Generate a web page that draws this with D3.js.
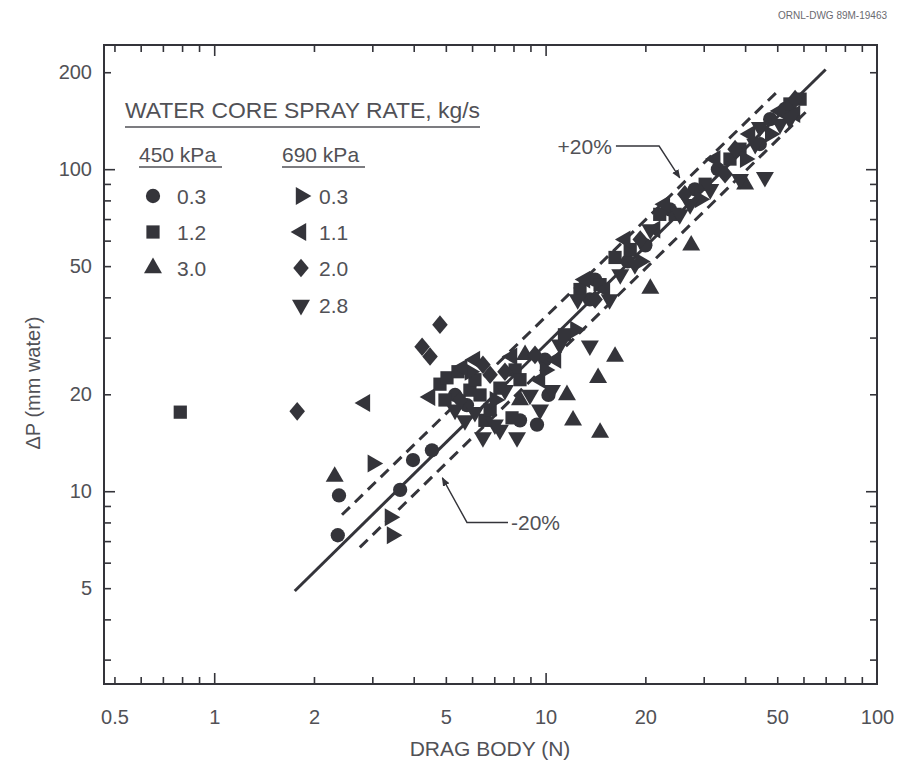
<!DOCTYPE html>
<html>
<head>
<meta charset="utf-8">
<script src="https://cdn.jsdelivr.net/npm/d3@7"></script>
<style>
  body { margin: 0; background: #fff; }
  svg { display: block; font-family: "Liberation Sans", Arial, Helvetica, sans-serif; }
</style>
</head>
<body>
<div id="vis"><svg width="899" height="765"></svg></div>
<script>
// ---- data (x = drag body N, y = dP mm water) ----
const xTickLabels = [0.5, 1, 2, 5, 10, 20, 50, 100];
const xMinorTicks = [0.5, 0.6, 0.7, 0.8, 0.9, 2, 3, 4, 5, 6, 7, 8, 9, 20, 30, 40, 50, 60, 70, 80, 90];
const xMajorTicks = [1, 10];
const yTickLabels = [5, 10, 20, 50, 100, 200];
const yMinorTicks = [3, 4, 5, 6, 7, 8, 9, 20, 30, 40, 50, 60, 70, 80, 90, 200];
const yMajorTicks = [10, 100];

// 450 kPa
const p450_r03 = [[2.38, 9.7], [2.36, 7.3], [3.64, 10.1], [3.98, 12.5], [4.54, 13.4], [5.79, 18.5],
  [5.33, 19.9], [9.42, 16.1], [9.96, 25.6], [8.37, 16.6], [10.2, 19.9], [13.6, 39.4], [14.1, 45.4],
  [17.7, 51.7], [20.0, 58.0], [23.7, 75.0], [28.2, 86.6], [33.1, 100], [44.3, 119.7], [47.6, 143],
  [52.8, 154]];
const p450_r12 = [[0.79, 17.6], [4.80, 21.5], [4.97, 19.2], [5.04, 22.5], [5.44, 23.5], [5.91, 20.6],
  [6.12, 22.2], [6.34, 19.9], [6.56, 16.6], [6.80, 17.9], [7.28, 20.9], [7.92, 16.9], [8.09, 23.8],
  [8.37, 22.2], [11.4, 30.6], [12.7, 42.3], [14.6, 43.8], [16.2, 53.2], [18.0, 56.3], [22.1, 72.4],
  [24.6, 72.4], [30.3, 89.8], [36.0, 107.5], [38.6, 115.4], [54.6, 159.4], [58.6, 165]];
const p450_r30 = [[2.31, 11.1], [8.37, 19.2], [8.67, 26.5], [11.6, 19.9], [12.1, 16.6], [14.6, 15.2],
  [14.4, 22.5], [16.2, 26.2], [20.7, 42.6], [27.5, 58.0], [40.0, 89.8]];
// 690 kPa
const p690_r03 = [[3.01, 12.2], [3.39, 8.3], [3.44, 7.3], [5.91, 23.5], [7.03, 19.2], [9.96, 23.8],
  [12.3, 31.7], [19.3, 51.7], [29.2, 80.7], [40.0, 107.5], [47.6, 128.5]];
const p690_r11 = [[2.85, 18.8], [4.48, 19.6], [5.60, 24.2], [6.12, 25.6], [7.92, 26.2], [9.62, 22.2],
  [10.75, 25.6], [13.15, 45.4], [15.1, 42.3], [17.4, 60.5], [21.4, 65.0], [22.9, 77.8], [32.5, 107.5],
  [41.4, 128.5], [51.0, 151.6], [56.6, 148.4]];
const p690_r20 = [[1.78, 17.7], [4.80, 32.9], [4.24, 28.1], [4.48, 26.2], [5.52, 19.2], [6.47, 24.7],
  [6.80, 23.0], [7.54, 23.5], [9.29, 26.5], [14.1, 39.4], [19.3, 60.5], [26.3, 83.6], [34.8, 96.5],
  [37.3, 115.4], [56.6, 165]];
const p690_r28 = [[5.33, 17.9], [5.71, 16.6], [6.12, 17.6], [6.47, 14.7], [7.03, 16.1], [7.28, 15.5],
  [7.54, 20.6], [8.20, 14.7], [8.97, 19.9], [9.62, 17.9], [10.45, 20.6], [11.05, 28.5], [12.5, 39.4],
  [13.6, 28.3], [15.6, 39.4], [16.8, 47.1], [18.6, 50.6], [20.7, 65.0], [25.4, 72.4], [27.3, 77.8],
  [31.4, 86.6], [38.6, 93.1], [42.9, 119.7], [45.9, 94.4], [44.3, 135.1], [51.0, 138.1], [54.6, 143]];

const fitLine = [[1.75, 4.9], [70, 204]];
const plus20Line = [[2.43, 8.45], [50, 174]];
const minus20Line = [[2.75, 6.69], [62, 153]];

const plusNote = [[16.3, 118], [22.0, 118], [25.4, 94]];
const minusNote = [[7.7, 8.0], [5.79, 8.0], [4.88, 11.0]];

const series = [
  { group: "450 kPa", rate: "0.3", points: p450_r03, shape: "circle" },
  { group: "450 kPa", rate: "1.2", points: p450_r12, shape: "square" },
  { group: "450 kPa", rate: "3.0", points: p450_r30, shape: "up" },
  { group: "690 kPa", rate: "0.3", points: p690_r03, shape: "right" },
  { group: "690 kPa", rate: "1.1", points: p690_r11, shape: "left" },
  { group: "690 kPa", rate: "2.0", points: p690_r20, shape: "diamond" },
  { group: "690 kPa", rate: "2.8", points: p690_r28, shape: "down" }
];

// ---- drawing ----
const ink = "#34343a";
const textInk = "#515156";

const svg = d3.select("#vis").select("svg");

const x = d3.scaleLog().domain([0.465, 100]).range([104, 877]);
const y = d3.scaleLog().domain([2.52, 243]).range([684, 45]);

const diamondType = {
  draw(context, size) {
    const w = Math.sqrt(size / 2.4), h = w * 1.2;
    context.moveTo(0, -h);
    context.lineTo(w, 0);
    context.lineTo(0, h);
    context.lineTo(-w, 0);
    context.closePath();
  }
};

const shapes = {
  circle: { type: d3.symbolCircle, size: 160, rotate: 0 },
  square: { type: d3.symbolSquare, size: 175, rotate: 0 },
  up: { type: d3.symbolTriangle, size: 140, rotate: 0 },
  right: { type: d3.symbolTriangle, size: 140, rotate: 90 },
  left: { type: d3.symbolTriangle, size: 140, rotate: -90 },
  diamond: { type: diamondType, size: 145, rotate: 0 },
  down: { type: d3.symbolTriangle, size: 140, rotate: 180 }
};

function symbolPath(shape) {
  const s = shapes[shape];
  return d3.symbol().type(s.type).size(s.size)();
}

svg.append("defs").append("marker")
  .attr("id", "arrow")
  .attr("viewBox", "0 0 10 10")
  .attr("refX", 9).attr("refY", 5)
  .attr("markerWidth", 9).attr("markerHeight", 9)
  .attr("markerUnits", "userSpaceOnUse")
  .attr("orient", "auto")
  .append("path")
  .attr("d", "M0,1 L10,5 L0,9 Z")
  .attr("fill", ink);

// frame
svg.append("rect")
  .attr("x", x.range()[0]).attr("y", y.range()[1])
  .attr("width", x.range()[1] - x.range()[0])
  .attr("height", y.range()[0] - y.range()[1])
  .attr("fill", "none").attr("stroke", ink).attr("stroke-width", 2);

// inward ticks on all four sides
function ticks(axis, values, size, transform) {
  svg.append("g")
    .attr("transform", transform)
    .call(axis.tickValues(values).tickSize(-size).tickSizeOuter(0).tickFormat(""))
    .call(g => g.select(".domain").remove())
    .call(g => g.selectAll("line").attr("stroke", ink).attr("stroke-width", 1.6));
}
ticks(d3.axisBottom(x), xMinorTicks, 7, `translate(0,${y.range()[0]})`);
ticks(d3.axisBottom(x), xMajorTicks, 11, `translate(0,${y.range()[0]})`);
ticks(d3.axisTop(x), xMinorTicks, 7, `translate(0,${y.range()[1]})`);
ticks(d3.axisTop(x), xMajorTicks, 11, `translate(0,${y.range()[1]})`);
ticks(d3.axisLeft(y), yMinorTicks, 7, `translate(${x.range()[0]},0)`);
ticks(d3.axisLeft(y), yMajorTicks, 11, `translate(${x.range()[0]},0)`);
ticks(d3.axisRight(y), yMinorTicks, 7, `translate(${x.range()[1]},0)`);
ticks(d3.axisRight(y), yMajorTicks, 11, `translate(${x.range()[1]},0)`);

// tick labels
svg.append("g")
  .attr("transform", `translate(0,${y.range()[0]})`)
  .call(d3.axisBottom(x).tickValues(xTickLabels).tickSize(0).tickPadding(26).tickFormat(d3.format("")))
  .call(g => g.select(".domain").remove())
  .call(g => g.selectAll("text").attr("font-size", 20).attr("font-family", null).attr("fill", textInk));

svg.append("g")
  .attr("transform", `translate(${x.range()[0]},0)`)
  .call(d3.axisLeft(y).tickValues(yTickLabels).tickSize(0).tickPadding(12).tickFormat(d3.format("")))
  .call(g => g.select(".domain").remove())
  .call(g => g.selectAll("text").attr("font-size", 20).attr("font-family", null).attr("fill", textInk));

// axis titles
svg.append("text")
  .attr("x", 490).attr("y", 756)
  .attr("text-anchor", "middle")
  .attr("font-size", 21).attr("fill", textInk)
  .text("DRAG BODY (N)");

svg.append("text")
  .attr("transform", "translate(40,383) rotate(-90)")
  .attr("text-anchor", "middle")
  .attr("font-size", 20).attr("fill", textInk)
  .text("\u0394P (mm water)");

svg.append("text")
  .attr("x", 887).attr("y", 19)
  .attr("text-anchor", "end")
  .attr("font-size", 10).attr("fill", "#6a6a70")
  .text("ORNL-DWG 89M-19463");

// correlation line and +/-20% band
const line = d3.line().x(d => x(d[0])).y(d => y(d[1]));

svg.append("path").attr("d", line(fitLine))
  .attr("fill", "none").attr("stroke", ink).attr("stroke-width", 3);
[plus20Line, minus20Line].forEach(l => {
  svg.append("path").attr("d", line(l))
    .attr("fill", "none").attr("stroke", ink).attr("stroke-width", 3)
    .attr("stroke-dasharray", "11,7");
});

// data points
const points = series.flatMap(s => s.points.map(p => ({ shape: s.shape, x: p[0], y: p[1] })));

svg.append("g").selectAll("path")
  .data(points)
  .join("path")
  .attr("d", d => symbolPath(d.shape))
  .attr("transform", d => `translate(${x(d.x)},${y(d.y)}) rotate(${shapes[d.shape].rotate})`)
  .attr("fill", ink);

// leader notes
[[plusNote, "+20%"], [minusNote, "-20%"]].forEach(([path, label]) => {
  svg.append("path").attr("d", line(path))
    .attr("fill", "none").attr("stroke", ink).attr("stroke-width", 1.4)
    .attr("marker-end", "url(#arrow)");
  const start = path[0];
  const isPlus = label.startsWith("+");
  svg.append("text")
    .attr("x", x(start[0]) + (isPlus ? -4 : 3))
    .attr("y", y(start[1]))
    .attr("dy", "0.36em")
    .attr("text-anchor", isPlus ? "end" : "start")
    .attr("font-size", 21).attr("fill", textInk)
    .text(label);
});

// legend
const legend = svg.append("g").attr("fill", textInk);

legend.append("text")
  .attr("x", 125).attr("y", 118)
  .attr("font-size", 22)
  .attr("textLength", 355).attr("lengthAdjust", "spacingAndGlyphs")
  .text("WATER CORE SPRAY RATE, kg/s");
legend.append("line")
  .attr("x1", 125).attr("x2", 480).attr("y1", 127).attr("y2", 127)
  .attr("stroke", textInk).attr("stroke-width", 1.5);

const groups = [
  { name: "450 kPa", x: 139, markX: 153, textX: 177 },
  { name: "690 kPa", x: 282, markX: 301, textX: 319 }
];
const rowY = [196, 232, 268, 305];

groups.forEach(g => {
  legend.append("text")
    .attr("x", g.x).attr("y", 162)
    .attr("font-size", 21)
    .text(g.name);
  legend.append("line")
    .attr("x1", g.x).attr("x2", g.x + 83).attr("y1", 167).attr("y2", 167)
    .attr("stroke", textInk).attr("stroke-width", 1.5);

  series.filter(s => s.group === g.name).forEach((s, i) => {
    legend.append("path")
      .attr("d", symbolPath(s.shape))
      .attr("transform", `translate(${g.markX},${rowY[i]}) rotate(${shapes[s.shape].rotate})`)
      .attr("fill", ink);
    legend.append("text")
      .attr("x", g.textX).attr("y", rowY[i])
      .attr("dy", "0.36em")
      .attr("font-size", 21)
      .text(s.rate);
  });
});
</script>
</body>
</html>
